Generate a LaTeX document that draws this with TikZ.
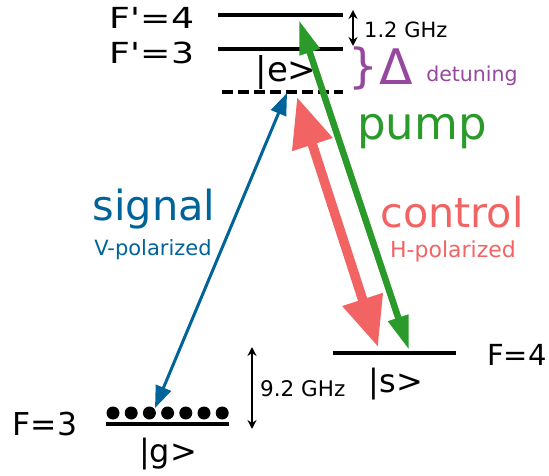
\documentclass[tikz,border=0pt]{standalone}
\usepackage{fontspec}
\setmainfont{DejaVu Sans}[Ligatures=TeXOff]
\usetikzlibrary{arrows.meta}
\definecolor{sigc}{RGB}{0,100,152}
\definecolor{ctlc}{RGB}{242,100,100}
\definecolor{pmpc}{RGB}{42,154,42}
\definecolor{detc}{RGB}{150,72,158}
\newcommand{\fs}[1]{\fontsize{#1}{#1}\selectfont}
\tikzset{
  lbl/.style={inner sep=0pt, anchor=base},
  level/.style={line width=3.5pt},
  sigarrow/.style={draw=sigc, line width=3pt, {Triangle[length=22pt,width=16pt]}-{Triangle[length=22pt,width=16pt]}},
  ctlarrow/.style={draw=ctlc, line width=9.5pt, {Triangle[length=50pt,width=40pt]}-{Triangle[length=50pt,width=40pt]}},
  pmparrow/.style={draw=pmpc, line width=6.5pt, {Triangle[length=34pt,width=20pt]}-{Triangle[length=34pt,width=20pt]}},
  gaparrow/.style={line width=1.5pt, {Stealth[length=9pt,width=9pt]}-{Stealth[length=9pt,width=9pt]}},
  dot/.style={circle, fill=black, minimum size=13pt, inner sep=0pt}
}
\begin{document}
\begin{tikzpicture}[x=1pt,y=-1pt]
\useasboundingbox (0,0) rectangle (549,476);
% level end points
\coordinate (f4a) at (218,15);  \coordinate (f4b) at (343,15);
\coordinate (f3a) at (218,49);  \coordinate (f3b) at (343,49);
\coordinate (ea)  at (222,92);  \coordinate (eb)  at (343,92);
\coordinate (sa)  at (333,353); \coordinate (sb)  at (456,353);
\coordinate (ga)  at (106,424); \coordinate (gb)  at (229,424);
\draw[level] (f4a) -- (f4b);
\draw[level] (f3a) -- (f3b);
\draw[level, dash pattern=on 11pt off 5pt] (ea) -- (eb);
\draw[level] (sa) -- (sb);
\draw[level] (ga) -- (gb);
% atoms
\foreach \i in {0,...,6} {
  \node[dot] (d\i) at ({113+18.2*\i},413) {};
}
% labels
\node[lbl] (lf4) at (152,29) {\scalebox{1.25}[1]{\fs{29}F'=4}};
\node[lbl] (lf3) at (152,64) {\scalebox{1.25}[1]{\fs{29}F'=3}};
\node[lbl, font=\fs{34}] (le) at (286,82) {|e>};
\node[lbl, font=\fs{29}] (lF4) at (517,365) {F=4};
\node[lbl, font=\fs{32}] (ls) at (396,392) {|s>};
\node[lbl, font=\fs{31.5}] (lF3) at (45,435) {F=3};
\node[lbl, font=\fs{32}] (lg) at (168,462) {|g>};
% gaps
\coordinate (ga1) at (353,10); \coordinate (ga2) at (353,46);
\draw[gaparrow] (ga1) -- (ga2);
\node[lbl, font=\fs{21}, anchor=base west] (l12) at (364,38) {1.2 GHz};
\coordinate (gb1) at (252,347); \coordinate (gb2) at (252,429);
\draw[gaparrow] (gb1) -- (gb2);
\node[lbl, font=\fs{21.5}, anchor=base west] (l92) at (260,396) {9.2 GHz};
% detuning
\node[lbl, font=\fs{47}, text=detc] (br) at (363,83) {\}};
\node[lbl, font=\fs{49}, text=detc] (delta) at (396,85) {Δ};
\node[lbl, font=\fs{20.5}, text=detc] (det) at (472,82) {detuning};
% transitions
\coordinate (sigtop) at (287,93);  \coordinate (sigbot) at (155,408);
\coordinate (ctltop) at (297,97);  \coordinate (ctlbot) at (378,347);
\coordinate (pmptop) at (299,20);  \coordinate (pmpbot) at (409,350);
\draw[sigarrow] (sigtop) -- (sigbot);
\draw[ctlarrow] (ctltop) -- (ctlbot);
\draw[pmparrow] (pmptop) -- (pmpbot);
% beam labels
\node[lbl, font=\fs{45}, text=pmpc] (lpump) at (422,140) {pump};
\node[lbl, font=\fs{41.5}, text=sigc] (lsig) at (154,220) {signal};
\node[lbl, font=\fs{21}, text=sigc] (lsigp) at (153,255) {V-polarized};
\node[lbl, font=\fs{41.3}, text=ctlc] (lctl) at (452,227) {control};
\node[lbl, font=\fs{22}, text=ctlc] (lctlp) at (453,257) {H-polarized};
\end{tikzpicture}
\end{document}
